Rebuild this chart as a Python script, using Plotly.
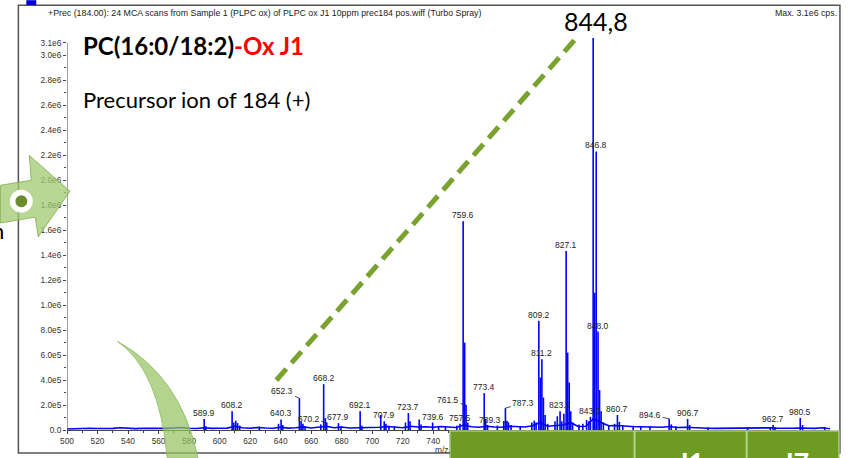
import plotly.graph_objects as go

# ---------------------------------------------------------------------------
# Precursor-ion scan of m/z 184 (+), PLPC oxidised, sample J1
# ---------------------------------------------------------------------------

# peaks carrying an m/z label in the spectrum (m/z, intensity in cps)
label_mz = [589.9, 608.2, 640.3, 652.3, 668.2, 670.2, 677.9, 692.1, 707.9, 723.7,
            739.6, 757.5, 759.6, 761.5, 773.4, 787.3, 789.3, 809.2, 811.2, 823.1,
            827.1, 843.0, 846.8, 848.0, 860.7, 894.6, 906.7, 962.7, 980.5]
label_int = [88e3, 151e3, 85e3, 255e3, 367e3, 60e3, 55e3, 151e3, 70e3, 135e3,
             60e3, 50e3, 1673e3, 200e3, 295e3, 175e3, 60e3, 876e3, 566e3, 150e3,
             1434e3, 105e3, 2231e3, 789e3, 120e3, 90e3, 88e3, 40e3, 96e3]

# base peak, called out separately above the spectrum
base_mz = 844.8
base_int = 3.14e6
base_text = "844,8"

# smaller unlabelled peaks (isotopes, shoulders)
minor_mz = [591.0, 609.3, 610.6, 611.8, 613.2, 626.0, 638.6, 641.4, 653.4, 654.6,
            656.0, 666.3, 669.3, 679.5, 693.3, 705.6, 709.0, 711.0, 714.5, 721.8,
            724.8, 730.8, 732.0, 743.5, 748.0, 755.5, 760.6, 762.6, 774.4, 775.6,
            782.0, 786.2, 788.3, 791.0, 797.0, 804.6, 806.2, 807.4, 810.2, 812.2,
            813.3, 815.0, 819.8, 821.3, 824.2, 825.6, 828.1, 829.1, 830.1, 831.3,
            835.5, 838.0, 840.5, 842.0, 845.8, 849.0, 850.0, 851.5, 855.0, 858.8,
            862.0, 864.2, 871.0, 876.0, 882.0, 896.0, 899.0, 908.0, 920.0, 946.0,
            960.8, 964.0, 982.0, 996.5]
minor_int = [30e3, 60e3, 75e3, 55e3, 35e3, 28e3, 50e3, 40e3, 65e3, 50e3,
             32e3, 45e3, 95e3, 30e3, 35e3, 120e3, 50e3, 35e3, 30e3, 60e3,
             70e3, 85e3, 45e3, 30e3, 32e3, 35e3, 700e3, 60e3, 90e3, 40e3,
             35e3, 70e3, 75e3, 40e3, 30e3, 60e3, 75e3, 60e3, 420e3, 260e3,
             120e3, 50e3, 70e3, 110e3, 70e3, 130e3, 620e3, 380e3, 150e3, 60e3,
             45e3, 50e3, 80e3, 70e3, 1100e3, 320e3, 150e3, 60e3, 40e3, 50e3,
             65e3, 40e3, 35e3, 30e3, 30e3, 45e3, 30e3, 40e3, 20e3, 22e3,
             25e3, 22e3, 40e3, 25e3]

# chemical-noise baseline, sampled every 5 m/z from 500 to 1000 (kcps)
baseline_mz = list(range(500, 1001, 5))
baseline_kcps = [8, 12, 10, 14, 12, 10, 13, 18, 12, 11,
                 14, 12, 10, 13, 16, 20, 14, 12, 18, 13,
                 14, 15, 30, 18, 14, 20, 16, 14, 22, 15,
                 18, 25, 16, 20, 30, 18, 24, 16, 18, 20,
                 16, 22, 28, 24, 18, 30, 24, 26, 22, 28,
                 24, 20, 40, 26, 22, 30, 24, 22, 30, 26,
                 24, 34, 60, 30, 34, 40, 60, 28, 30, 90,
                 60, 34, 36, 30, 28, 26, 24, 26, 22, 28,
                 20, 22, 18, 15, 14, 13, 14, 12, 13, 14,
                 15, 16, 18, 15, 13, 14, 16, 14, 13, 18,
                 10]

# axis ticks
x_tick_vals = list(range(500, 1001, 20))
y_tick_vals = [0, 2e5, 4e5, 6e5, 8e5, 1e6, 1.2e6, 1.4e6, 1.6e6, 1.8e6,
               2e6, 2.2e6, 2.4e6, 2.6e6, 2.8e6, 3e6, 3.1e6]
y_tick_text = ["0.0", "2.0e5", "4.0e5", "6.0e5", "8.0e5", "1.0e6", "1.2e6", "1.4e6",
               "1.6e6", "1.8e6", "2.0e6", "2.2e6", "2.4e6", "2.6e6", "2.8e6",
               "3.0e6", "3.1e6"]

# ---------------------------------------------------------------------------
W, H = 852, 458
ML, MR, MT, MB = 67, 16, 38, 26
PW, PH = W - ML - MR, H - MT - MB


def px(xp):
    return (xp - ML) / PW


def py(yp):
    return (H - MB - yp) / PH


def path(cmds):
    out = []
    for c in cmds:
        if isinstance(c, str):
            out.append(c)
        else:
            out.append(f"{px(c[0]):.5f},{py(c[1]):.5f}")
    return " ".join(out)


BLUE = "#0000ff"
SMALL = "Liberation Sans, Arial, sans-serif"
LABEL_FONT = dict(family=SMALL, size=8.5, color="#222222")
TICK_FONT = dict(family=SMALL, size=8.3, color="#333333")

fig = go.Figure()

# noise baseline
fig.add_trace(go.Scatter(
    x=baseline_mz, y=[v * 1e3 for v in baseline_kcps], mode="lines",
    line=dict(color=BLUE, width=1.7), hoverinfo="skip"))

# peaks drawn as sticks
all_mz = minor_mz + label_mz + [base_mz]
all_int = minor_int + label_int + [base_int]
sx, sy = [], []
for m, h in zip(all_mz, all_int):
    sx += [m, m, None]
    sy += [0, h, None]
fig.add_trace(go.Scatter(x=sx, y=sy, mode="lines",
                         line=dict(color=BLUE, width=1.6), hoverinfo="skip"))

fig.update_layout(
    width=W, height=H, margin=dict(l=ML, r=MR, t=MT, b=MB),
    paper_bgcolor="white", plot_bgcolor="white", showlegend=False,
    xaxis=dict(range=[500, 1000], tickmode="array", tickvals=x_tick_vals,
               ticks="outside", ticklen=3, tickwidth=1, tickcolor="#444",
               showline=True, linecolor="#444", linewidth=1,
               showgrid=False, zeroline=False,
               tickfont=TICK_FONT,
               minor=dict(tickmode="linear", tick0=500, dtick=10, ticks="outside",
                          ticklen=2, tickcolor="#444", showgrid=False)),
    yaxis=dict(range=[0, 3.14e6], tickmode="array", tickvals=y_tick_vals,
               ticktext=y_tick_text, ticks="outside", ticklen=3, tickwidth=1,
               tickcolor="#444", showline=False, showgrid=False, zeroline=False,
               tickfont=TICK_FONT,
               minor=dict(tickmode="linear", tick0=0, dtick=1e5, ticks="outside",
                          ticklen=2, tickcolor="#444", showgrid=False)),
)

# ---------------------------------------------------------------------------
# peak labels; a few are offset with a short leader line
leaders = {652.3: (-17, -7), 670.2: (-18, -4), 761.5: (-18, -5),
           787.3: (18, -5), 789.3: (-18, -3), 894.6: (-19, -4)}
ann = []
for m, h in zip(label_mz, label_int):
    if m in leaders:
        ax, ay = leaders[m]
        ann.append(dict(x=m, y=h, xref="x", yref="y", text=f"{m:.1f}",
                        showarrow=True, arrowhead=0, arrowwidth=0.8,
                        arrowcolor="#222", ax=ax, ay=ay, standoff=0,
                        font=LABEL_FONT))
    else:
        ann.append(dict(x=m, y=h, xref="x", yref="y", text=f"{m:.1f}",
                        showarrow=False, yanchor="bottom", yshift=-1,
                        font=LABEL_FONT))

# base peak call-out
ann.append(dict(x=base_mz, y=py(21), xref="x", yref="paper", text=base_text,
                showarrow=False, xanchor="center", yanchor="middle", xshift=3,
                font=dict(family="Lato, sans-serif", size=25, color="black")))

# header line and max intensity
HEADER_FONT = dict(family=SMALL, size=8.8, color="#222")
ann.append(dict(x=px(46), y=py(12.5), xref="paper", yref="paper", xanchor="left",
                yanchor="middle", showarrow=False,
                text="+Prec (184.00): 24 MCA scans from Sample 1 (PLPC ox) of PLPC ox J1 "
                     "10ppm prec184 pos.wiff (Turbo Spray)",
                font=HEADER_FONT))
ann.append(dict(x=px(845), y=py(12.5), xref="paper", yref="paper", xanchor="right",
                yanchor="middle", showarrow=False, text="Max. 3.1e6 cps.",
                font=HEADER_FONT))

# titles
ann.append(dict(x=px(81), y=py(46), xref="paper", yref="paper", xanchor="left",
                yanchor="middle", showarrow=False,
                text="<b>PC(16:0/18:2)<span style='color:#ff0000'>-Ox J1</span></b>",
                font=dict(family="Lato, sans-serif", size=24, color="black")))
ann.append(dict(x=px(81), y=py(100), xref="paper", yref="paper", xanchor="left",
                yanchor="middle", showarrow=False, text="Precursor ion of 184 (+)",
                font=dict(family="Lato, sans-serif", size=22, color="black")))

# axis unit
ann.append(dict(x=px(436), y=py(452), xref="paper", yref="paper", xanchor="left",
                yanchor="middle", showarrow=False, text="m/z,",
                font=TICK_FONT))

# word fragment on the left edge
ann.append(dict(x=px(6), y=py(231), xref="paper", yref="paper", xanchor="right",
                yanchor="middle", showarrow=False, text="n",
                font=dict(family="Lato, sans-serif", size=22, color="black")))

# table header cells at the bottom right
for cx, t in [(695, "J1"), (801, "J7")]:
    ann.append(dict(x=px(cx), y=py(445), xref="paper", yref="paper",
                    xanchor="center", yanchor="top", showarrow=False,
                    text=f"<b>{t}</b>",
                    font=dict(family="Lato, sans-serif", size=27, color="white")))

fig.update_layout(annotations=ann)

# ---------------------------------------------------------------------------
shapes = []
# outer frame
shapes.append(dict(type="rect", xref="paper", yref="paper",
                   x0=px(18), x1=px(846), y0=py(455), y1=py(5),
                   line=dict(color="#555", width=1.5), fillcolor="rgba(0,0,0,0)",
                   layer="above"))
# legend swatch
shapes.append(dict(type="rect", xref="paper", yref="paper",
                   x0=px(26), x1=px(36), y0=py(5), y1=py(0),
                   line=dict(width=0), fillcolor="#0000dd", layer="above"))
# intensity axis line up to the max
shapes.append(dict(type="line", xref="x", yref="y", x0=500, x1=500, y0=0, y1=3.1e6,
                   line=dict(color="#444", width=1), layer="above"))
# curved arrow tail at the bottom left
shapes.append(dict(type="path", xref="paper", yref="paper",
                   path=path(["M", (118, 343), "Q", (160, 372), (168, 460),
                              "L", (199, 460), "Q", (182, 378), (118, 343), "Z"]),
                   fillcolor="rgba(150,196,98,0.72)",
                   line=dict(color="rgba(140,186,90,0.8)", width=1), layer="above"))
# block arrow on the left edge
shapes.append(dict(type="path", xref="paper", yref="paper",
                   path=path(["M", (0, 186), "L", (31, 181), "L", (29, 156),
                              "L", (70, 192), "L", (38, 238), "L", (35, 218),
                              "L", (0, 224), "Z"]),
                   fillcolor="rgba(160,202,112,0.75)",
                   line=dict(color="rgba(130,180,80,0.85)", width=1), layer="above"))
shapes.append(dict(type="circle", xref="paper", yref="paper",
                   x0=px(21 - 11.5), x1=px(21 + 11.5), y0=py(202 + 11.5), y1=py(202 - 11.5),
                   fillcolor="white", line=dict(width=0), layer="above"))
shapes.append(dict(type="circle", xref="paper", yref="paper",
                   x0=px(21 - 6), x1=px(21 + 6), y0=py(202 + 6), y1=py(202 - 6),
                   fillcolor="#6a8c2c", line=dict(width=0), layer="above"))
# table block at the bottom right
shapes.append(dict(type="rect", xref="paper", yref="paper",
                   x0=px(453), x1=px(845), y0=py(462), y1=py(433),
                   fillcolor="#6e9b22", line=dict(color="#a9c67c", width=1.5),
                   layer="above"))
for sxp in (639, 752):
    shapes.append(dict(type="line", xref="paper", yref="paper",
                       x0=px(sxp), x1=px(sxp), y0=py(462), y1=py(433),
                       line=dict(color="#b7d08f", width=2), layer="above"))
# dashed pointer towards the base peak
shapes.append(dict(type="line", xref="paper", yref="paper",
                   x0=px(278), y0=py(382), x1=px(583), y1=py(35),
                   line=dict(color="#79a22e", width=5, dash="15px,8px"),
                   layer="above"))
fig.update_layout(shapes=shapes)

fig.write_html("out.html")
